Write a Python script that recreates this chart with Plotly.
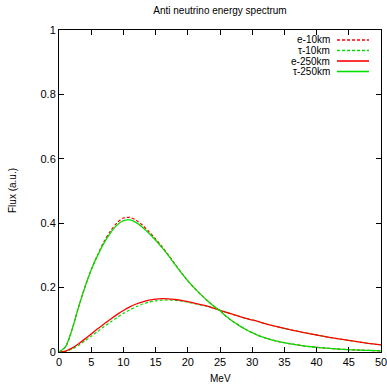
import plotly.graph_objects as go

energy = list(range(0, 51))

# high-peak curves
e_10km = [0, 0.016, 0.068, 0.137, 0.2, 0.256, 0.302, 0.343, 0.376, 0.401, 0.416,
          0.418, 0.409, 0.393, 0.373, 0.351, 0.327, 0.301, 0.273, 0.246, 0.221,
          0.199, 0.179, 0.16, 0.143, 0.128, 0.11, 0.095, 0.082, 0.07, 0.06,
          0.051, 0.044, 0.038, 0.033, 0.029, 0.025, 0.022, 0.019, 0.0165, 0.0145,
          0.0127, 0.011, 0.0096, 0.0084, 0.0073, 0.0064, 0.0056, 0.0049, 0.0043, 0.0037]
tau_250km = [0, 0.016, 0.068, 0.137, 0.2, 0.255, 0.3, 0.339, 0.37, 0.394, 0.408,
             0.41, 0.402, 0.387, 0.368, 0.347, 0.324, 0.299, 0.272, 0.246, 0.221,
             0.199, 0.179, 0.16, 0.143, 0.128, 0.11, 0.095, 0.082, 0.07, 0.06,
             0.051, 0.044, 0.038, 0.033, 0.029, 0.025, 0.022, 0.019, 0.0165, 0.0145,
             0.0127, 0.011, 0.0096, 0.0084, 0.0073, 0.0064, 0.0056, 0.0049, 0.0043, 0.0037]
# low-peak curves
e_250km = [0, 0.003, 0.012, 0.025, 0.04, 0.056, 0.072, 0.087, 0.102, 0.116, 0.129,
           0.14, 0.149, 0.156, 0.161, 0.164, 0.1655, 0.165, 0.163, 0.1605, 0.1565,
           0.152, 0.147, 0.1425, 0.136, 0.1295, 0.123, 0.117, 0.1105, 0.1045, 0.0995,
           0.094, 0.088, 0.083, 0.078, 0.0735, 0.069, 0.0645, 0.0605, 0.0565, 0.0528,
           0.049, 0.0455, 0.042, 0.039, 0.036, 0.033, 0.03, 0.027, 0.0245, 0.022]
tau_10km = [0, 0.002, 0.009, 0.02, 0.034, 0.049, 0.064, 0.079, 0.093, 0.107, 0.12,
            0.131, 0.141, 0.149, 0.155, 0.159, 0.161, 0.1615, 0.1605, 0.158, 0.1545,
            0.1505, 0.146, 0.1425, 0.136, 0.1295, 0.123, 0.117, 0.1105, 0.1045, 0.0995,
            0.094, 0.088, 0.083, 0.078, 0.0735, 0.069, 0.0645, 0.0605, 0.0565, 0.0528,
            0.049, 0.0455, 0.042, 0.039, 0.036, 0.033, 0.03, 0.027, 0.0245, 0.022]

names = ["e-10km", "τ-10km", "e-250km", "τ-250km"]
series = [e_10km, tau_10km, e_250km, tau_250km]
RED = "#ff0000"
GREEN = "#00e000"
styles = [(RED, "3px,2px", 1.2), (GREEN, "3px,2px", 1.2),
          (RED, "solid", 1.3), (GREEN, "solid", 1.3)]

x_ticks = list(range(0, 51, 5))
y_ticks = [0, 0.2, 0.4, 0.6, 0.8, 1]
y_tick_text = ["0", "0.2", "0.4", "0.6", "0.8", "1"]

FONT = "Liberation Sans, Arial, sans-serif"

fig = go.Figure()
for name, ys, (c, d, w) in zip(names, series, styles):
    fig.add_trace(go.Scatter(x=energy, y=ys, mode="lines", name=name,
                             line=dict(color=c, dash=d, width=w, shape="spline", smoothing=0.8),
                             showlegend=False))

W, H = 387, 385
L, R, T, B = 59, 6, 30, 33
pw = W - L - R
ph = H - T - B

def px2paper(px, py):
    return (px - L) / pw, (H - B - py) / ph

# custom gnuplot-style legend: text then line sample
rows_y = [40, 50.5, 61, 71.5]
shapes = []
annotations = []
for name, (c, d, w), ry in zip(names, styles, rows_y):
    tx, ty = px2paper(332, ry)
    annotations.append(dict(x=tx, y=ty, xref="paper", yref="paper", text=name,
                            showarrow=False, xanchor="right", yanchor="middle",
                            font=dict(family=FONT, size=10, color="#000")))
    x0, y0 = px2paper(337, ry)
    x1, _ = px2paper(369, ry)
    shapes.append(dict(type="line", xref="paper", yref="paper", x0=x0, x1=x1,
                       y0=y0, y1=y0, line=dict(color=c, dash=d, width=w + 0.3)))

# axis titles
annotations.append(dict(x=-47 / pw, y=0.5, xref="paper", yref="paper", text="Flux (a.u.)",
                        textangle=-90, showarrow=False, xanchor="center", yanchor="middle",
                        font=dict(family=FONT, size=10, color="#000")))
annotations.append(dict(x=0.5, y=-26 / ph, xref="paper", yref="paper", text="MeV",
                        showarrow=False, xanchor="center", yanchor="middle",
                        font=dict(family=FONT, size=10, color="#000")))

axis_common = dict(showline=True, linecolor="black", linewidth=1, mirror="ticks",
                   ticks="inside", ticklen=5, tickwidth=1, tickcolor="black",
                   showgrid=False, zeroline=False, ticklabeloverflow="allow",
                   automargin=False,
                   tickfont=dict(family=FONT, size=11, color="#000"))

fig.update_layout(
    width=W, height=H,
    margin=dict(l=L, r=R, t=T, b=B),
    paper_bgcolor="white", plot_bgcolor="white",
    title=dict(text="Anti neutrino energy spectrum", x=(L + pw / 2) / W, xanchor="center",
               y=1 - 10 / H, yanchor="middle", yref="container",
               font=dict(family=FONT, size=10, color="#000")),
    xaxis=dict(range=[0, 50], tickvals=x_ticks, ticktext=[str(v) for v in x_ticks], **axis_common),
    yaxis=dict(range=[0, 1], tickvals=y_ticks, ticktext=y_tick_text, **axis_common),
    shapes=shapes, annotations=annotations,
)

fig.write_html("out.html")
